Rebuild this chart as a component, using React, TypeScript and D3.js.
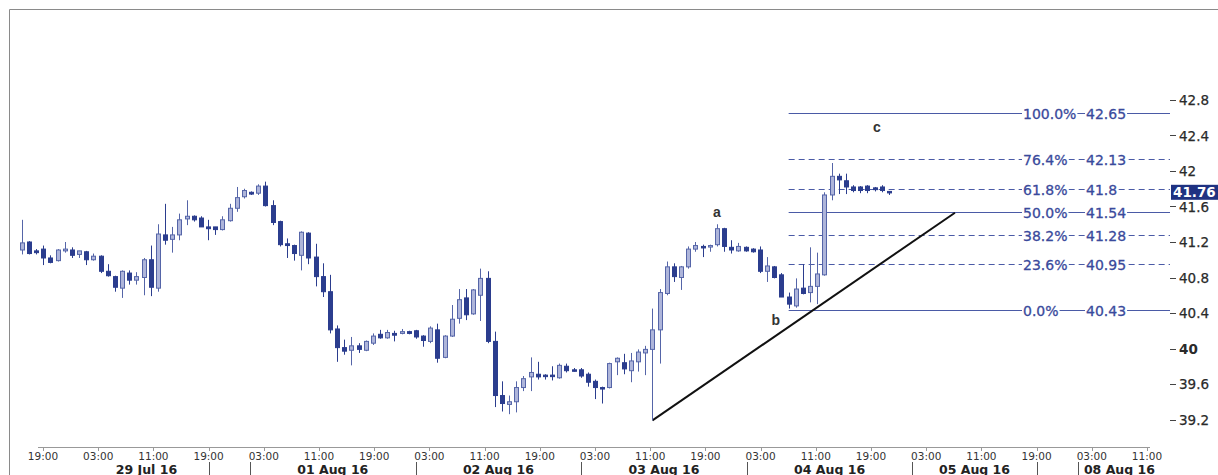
import React from "react";
import * as d3 from "d3";

// ---- Data ----
const opens = [41.11,41.20,41.10,41.12,41.02,40.99,41.10,41.11,41.06,41.09,41.00,41.04,40.87,40.81,40.68,40.85,40.77,40.80,41.00,40.68,
41.28,41.23,41.28,41.46,41.49,41.47,41.37,41.37,41.34,41.44,41.58,41.71,41.76,41.75,41.83,41.61,41.43,41.18,41.16,41.05,
41.30,41.03,40.81,40.64,40.22,40.01,39.98,40.03,39.98,40.06,40.16,40.12,40.17,40.17,40.19,40.20,40.14,40.08,40.21,39.90,
40.14,40.34,40.57,40.39,40.60,40.79,40.08,39.47,39.37,39.40,39.56,39.68,39.71,39.70,39.70,39.67,39.80,39.76,39.76,39.71,
39.63,39.56,39.56,39.85,39.84,39.75,39.85,39.95,39.99,40.21,40.62,40.92,40.80,40.92,41.12,41.15,41.15,41.17,41.35,41.14,
41.10,41.14,41.12,41.11,40.87,40.92,40.83,40.58,40.48,40.68,40.63,40.70,40.83,41.73,41.94,41.89,41.82,41.82,41.83,41.81,
41.82,41.77];
const highs = [41.45,41.21,41.12,41.16,41.05,41.12,41.20,41.14,41.10,41.10,41.07,41.05,40.95,40.82,40.88,40.88,40.86,41.02,41.16,41.40,
41.63,41.37,41.52,41.67,41.50,41.49,41.45,41.37,41.49,41.63,41.82,41.80,41.77,41.85,41.88,41.67,41.44,41.24,41.17,41.32,
41.31,41.18,40.96,40.83,40.26,40.10,40.13,40.06,40.09,40.17,40.21,40.21,40.20,40.22,40.20,40.21,40.15,40.25,40.28,40.15,
40.49,40.67,40.67,40.67,40.90,40.87,40.19,39.63,39.47,39.63,39.69,39.90,39.85,39.71,39.80,39.83,39.83,39.78,39.78,39.73,
39.65,39.57,39.84,39.90,39.94,39.95,39.99,40.03,40.45,40.67,40.98,40.96,40.93,41.15,41.20,41.17,41.17,41.40,41.36,41.22,
41.19,41.15,41.13,41.15,41.03,40.93,40.85,40.63,40.79,40.95,41.14,41.08,41.76,42.09,41.97,41.97,41.84,41.83,41.84,41.82,
41.84,41.77];
const lows = [41.06,41.06,41.06,40.94,40.96,40.98,41.08,41.02,41.02,40.94,40.99,40.85,40.81,40.64,40.57,40.72,40.72,40.60,40.59,40.64,
41.17,41.08,41.22,41.39,41.43,41.37,41.22,41.28,41.33,41.43,41.54,41.69,41.73,41.73,41.60,41.39,41.15,41.02,40.99,40.88,
40.95,40.70,40.58,40.17,39.85,39.93,39.81,39.95,39.97,40.04,40.11,40.11,40.08,40.16,40.16,40.11,40.02,40.06,39.84,39.89,
40.13,40.28,40.32,40.38,40.31,40.06,39.34,39.29,39.26,39.28,39.52,39.52,39.65,39.65,39.64,39.66,39.73,39.74,39.67,39.57,
39.43,39.38,39.55,39.70,39.71,39.62,39.74,39.70,39.19,39.83,40.60,40.75,40.66,40.90,41.09,41.03,41.09,41.15,41.09,41.07,
41.09,41.09,41.08,40.85,40.75,40.79,40.58,40.45,40.46,40.61,40.52,40.50,40.82,41.67,41.74,41.74,41.76,41.75,41.75,41.77,
41.76,41.73];
const closes = [41.19,41.07,41.08,41.02,40.97,41.11,41.12,41.05,41.10,41.00,41.04,40.87,40.82,40.69,40.87,40.77,40.81,41.00,40.69,41.29,
41.22,41.28,41.45,41.49,41.45,41.37,41.35,41.34,41.45,41.58,41.70,41.78,41.74,41.83,41.61,41.42,41.17,41.16,41.07,41.31,
41.02,40.81,40.64,40.21,40.01,39.97,40.03,39.99,40.08,40.14,40.12,40.18,40.15,40.19,40.17,40.13,40.09,40.23,39.89,40.14,
40.33,40.55,40.38,40.66,40.79,40.08,39.47,39.38,39.40,39.56,39.66,39.73,39.68,39.69,39.69,39.81,39.75,39.75,39.69,39.62,
39.56,39.55,39.83,39.89,39.77,39.86,39.96,39.99,40.21,40.63,40.92,40.81,40.92,41.12,41.16,41.14,41.16,41.35,41.15,41.11,
41.15,41.10,41.09,40.87,40.93,40.80,40.58,40.50,40.67,40.62,40.70,40.84,41.73,41.94,41.90,41.82,41.78,41.78,41.78,41.79,
41.78,41.76];

const yTicks = [42.8, 42.4, 42.0, 41.6, 41.2, 40.8, 40.4, 40.0, 39.6, 39.2];
const yTickLabels = ["42.8", "42.4", "42", "41.6", "41.2", "40.8", "40.4", "40", "39.6", "39.2"];

const timeHours = [0, 8, 16, 24, 32, 40, 48, 56, 64, 72, 80, 88, 96, 104, 112, 120, 128, 136, 144, 152, 160];
const timeLabels = ["19:00","03:00","11:00","19:00","03:00","11:00","19:00","03:00","11:00","19:00","03:00","11:00","19:00","03:00","11:00","19:00","03:00","11:00","19:00","03:00","11:00"];
const daySeparators = [24, 30, 54, 78, 102, 126, 144, 150];
const dayLabels = ["29 Jul 16", "01 Aug 16", "02 Aug 16", "03 Aug 16", "04 Aug 16", "05 Aug 16", "08 Aug 16"];
const dayCenters = [15, 42, 66, 90, 114, 135, 156];

const fibPct = ["100.0%", "76.4%", "61.8%", "50.0%", "38.2%", "23.6%", "0.0%"];
const fibVal = [42.65, 42.13, 41.8, 41.54, 41.28, 40.95, 40.43];
const fibDashed = [false, true, true, false, true, true, false];
const fibStartIdx = 107;

const trendIdx = [88, 130.2];
const trendPrice = [39.19, 41.53];

const waveText = ["a", "b", "c"];
const waveIdx = [97, 105.2, 119.3];
const wavePrice = [41.48, 40.27, 42.44];

const lastPrice = 41.76;

// approximate text width for DejaVu Sans at a given size
function textW(s: string, size: number) {
  let w = 0;
  for (const ch of s) {
    if (ch === ".") w += 0.318;
    else if (ch === "%") w += 0.95;
    else w += 0.636;
  }
  return w * size;
}

export default function App() {
  const W = 1218, H = 475;
  const xC = d3.scaleLinear().domain([0, 121]).range([21.7, 889]);
  const xH = d3.scaleLinear().domain([0, 160]).range([43, 1147]);
  const y = d3.scaleLinear().domain([39.2, 42.8]).range([419.5, 100]);
  const axisX = 1170;
  const dark = "#2b3d8e";
  const lightFill = "#aeb5da";
  const lightStroke = "#5565a8";
  const fibColor = "#4a5aa6";
  const bw = 4;
  const fs = 14;
  const pctX = 1023;
  const valX = 1086;

  return (
    <svg width={W} height={H} style={{ position: "absolute", left: 0, top: 0, background: "#fff" }}
      fontFamily="'DejaVu Sans', Verdana, sans-serif">
      {/* frame */}
      <line x1={9.5} y1={9.5} x2={W} y2={9.5} stroke="#8a8a8a" />
      <line x1={9.5} y1={9.5} x2={9.5} y2={H} stroke="#8a8a8a" />

      {/* fib levels */}
      {fibVal.map((v, i) => {
        const yy = Math.round(y(v)) + 0.5;
        const vs = String(fibVal[i]);
        return (
          <g key={"f" + i}>
            <line x1={xC(fibStartIdx)} x2={axisX} y1={yy} y2={yy} stroke={fibColor} strokeWidth={1}
              strokeDasharray={fibDashed[i] ? "6,4" : undefined} />
            <rect x={pctX - 1} y={yy - 7} width={textW(fibPct[i], fs) + 2} height={14} fill="#fff" />
            <rect x={valX - 1} y={yy - 7} width={textW(vs, fs) + 2} height={14} fill="#fff" />
            <text x={pctX} y={yy + 5} fontSize={fs} fill="#3a4a9c" stroke="#3a4a9c" strokeWidth={0.3}>{fibPct[i]}</text>
            <text x={valX} y={yy + 5} fontSize={fs} fill="#3a4a9c" stroke="#3a4a9c" strokeWidth={0.3}>{vs}</text>
          </g>
        );
      })}

      {/* trend line */}
      <line x1={xC(trendIdx[0])} y1={y(trendPrice[0])} x2={xC(trendIdx[1])} y2={y(trendPrice[1])}
        stroke="#111" strokeWidth={2} />

      {/* candles */}
      {opens.map((o, i) => {
        const c = closes[i];
        const up = c >= o;
        const cx = Math.round(xC(i)) + 0.5;
        const top = y(Math.max(o, c));
        const bot = y(Math.min(o, c));
        const h = Math.max(1.5, bot - top);
        return (
          <g key={"c" + i}>
            <line x1={cx} x2={cx} y1={y(highs[i])} y2={y(lows[i])} stroke={up ? lightStroke : dark} strokeWidth={1} />
            <rect x={cx - bw / 2} y={top} width={bw} height={h}
              fill={up ? lightFill : dark} stroke={up ? lightStroke : dark} strokeWidth={1} />
          </g>
        );
      })}

      {/* wave labels */}
      {waveText.map((t, i) => (
        <text key={"w" + i} x={xC(waveIdx[i])} y={y(wavePrice[i])} textAnchor="middle" fontSize={14}
          fontWeight="bold" fontFamily="'Liberation Sans', Arial, sans-serif" fill="#333">{t}</text>
      ))}

      {/* y axis */}
      {yTicks.map((v, i) => (
        <g key={"y" + i}>
          <line x1={axisX} x2={axisX + 6} y1={Math.round(y(v)) + 0.5} y2={Math.round(y(v)) + 0.5} stroke="#444" />
          <text x={axisX + 9} y={y(v) + 5} fontSize={13.5} fill="#2a2a2a"
            fontWeight={yTickLabels[i] === "40" ? "bold" : "normal"}
            stroke={yTickLabels[i] === "40" ? "none" : "#2a2a2a"} strokeWidth={0.25}>{yTickLabels[i]}</text>
        </g>
      ))}
      {/* last price box */}
      <rect x={axisX + 1} y={y(lastPrice) - 7.5} width={60} height={15} fill="#1f3282" />
      <text x={axisX + 3} y={y(lastPrice) + 5} fontSize={13.5} fontWeight="bold" fill="#fff">{lastPrice.toFixed(2)}</text>

      {/* x axis */}
      <line x1={38} x2={1150} y1={447.5} y2={447.5} stroke="#999" />
      {timeHours.map((h, i) => (
        <g key={"t" + i}>
          <line x1={Math.round(xH(h)) + 0.5} x2={Math.round(xH(h)) + 0.5} y1={447} y2={451} stroke="#999" />
          <text x={xH(h)} y={460} textAnchor="middle" fontSize={10.5} fill="#333">{timeLabels[i]}</text>
        </g>
      ))}
      {daySeparators.map((h, i) => (
        <line key={"s" + i} x1={Math.round(xH(h)) + 0.5} x2={Math.round(xH(h)) + 0.5} y1={462} y2={475} stroke="#555" />
      ))}
      {dayLabels.map((d, i) => (
        <text key={"d" + i} x={xH(dayCenters[i])} y={474} textAnchor="middle" fontSize={12.5} fontWeight="bold" fill="#222">{d}</text>
      ))}
    </svg>
  );
}
